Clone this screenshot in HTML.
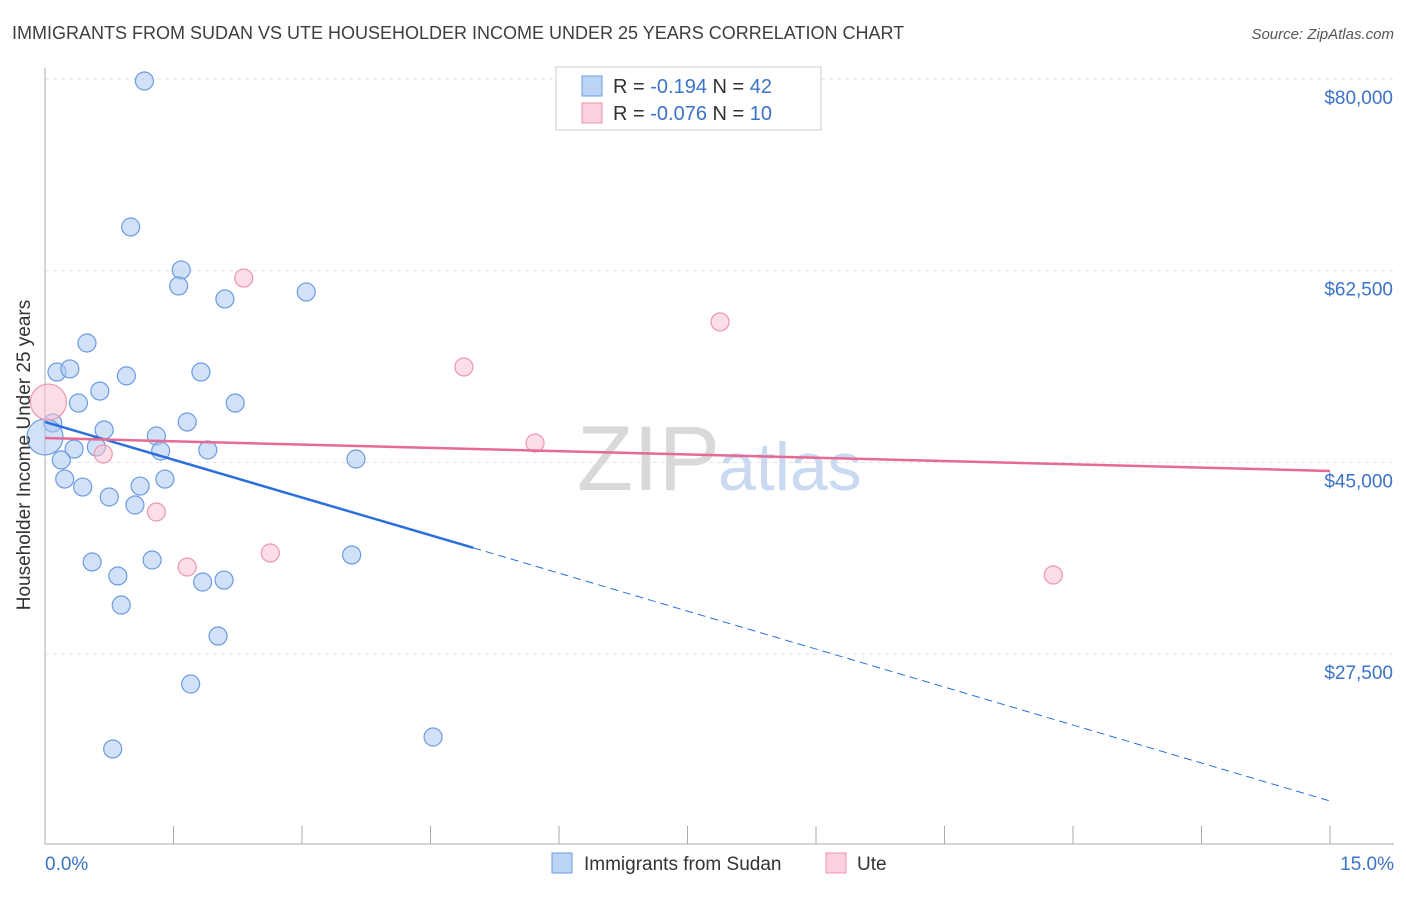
<!DOCTYPE html>
<html><head><meta charset="utf-8"><style>
body{margin:0;background:#fff;font-family:"Liberation Sans",sans-serif}
svg text{font-family:"Liberation Sans",sans-serif}
</style></head><body>
<svg id="c" width="1406" height="892" xmlns="http://www.w3.org/2000/svg">
<text x="12" y="39" font-size="18" fill="#3e3e3e">IMMIGRANTS FROM SUDAN VS UTE HOUSEHOLDER INCOME UNDER 25 YEARS CORRELATION CHART</text>
<text x="1394" y="39" font-size="15" fill="#555" text-anchor="end" font-style="italic">Source: ZipAtlas.com</text>
<g id="grid"></g>
<text x="720" y="490" font-size="92" fill="#d9d9d9" text-anchor="end" font-family="Liberation Serif">ZIP</text>
<text x="718" y="490" font-size="68" fill="#c9d9f0">atlas</text>
<g id="pts"></g>
<g id="lines"></g>
<text x="30" y="455" font-size="19" fill="#333" text-anchor="middle" transform="rotate(-90 30 455)">Householder Income Under 25 years</text>
<text x="45" y="870" font-size="19" fill="#3b73c8">0.0%</text>
<text x="1394" y="870" font-size="19" fill="#3b73c8" text-anchor="end">15.0%</text>
<g>
<rect x="556" y="67" width="265" height="63" fill="#fff" stroke="#ccc"/>
<rect x="582" y="76" width="20" height="20" fill="#bcd4f5" stroke="#6c9be0"/>
<rect x="582" y="103" width="20" height="20" fill="#fcd0dc" stroke="#ee95b0"/>
<text x="613" y="93" font-size="20" fill="#333">R = <tspan fill="#3b73c8"> -0.194</tspan>   N = <tspan fill="#3b73c8">42</tspan></text>
<text x="613" y="120" font-size="20" fill="#333">R = <tspan fill="#3b73c8">-0.076</tspan>   N = <tspan fill="#3b73c8"> 10</tspan></text>
</g>
<g>
<rect x="552" y="853" width="20" height="20" fill="#bcd4f5" stroke="#6c9be0"/>
<text x="584" y="870" font-size="19" fill="#333">Immigrants from Sudan</text>
<rect x="826" y="853" width="20" height="20" fill="#fcd0dc" stroke="#ee95b0"/>
<text x="857" y="870" font-size="19" fill="#333">Ute</text>
</g>
</svg>
<script>
const yTicks=[80000,62500,45000,27500];
const yTickLabels=["$80,000","$62,500","$45,000","$27,500"];
const sudanX=[1.16,1.00,1.59,1.56,2.10,3.05,0.49,0.14,0.29,0.95,1.82,0.64,0.39,2.22,1.66,0.09,0.69,1.30,0.0,0.60,1.35,1.90,0.34,0.19,3.63,0.23,0.44,1.11,1.40,0.75,1.05,0.55,1.25,0.85,1.84,2.09,3.58,0.89,2.02,1.70,0.79,4.53];
const sudanY=[79820,66490,62570,61110,59920,60560,55900,53250,53530,52900,53250,51510,50420,50420,48690,48600,47960,47410,47320,46410,46040,46130,46220,45220,45310,43480,42750,42840,43480,41840,41110,35910,36090,34630,34080,34260,36550,31980,29150,24770,18840,19930];
const uteX=[0.04,2.32,7.88,4.89,5.72,0.68,1.30,2.63,1.66,11.77];
const uteY=[50510,61830,57820,53710,46770,45770,40470,36730,35450,34720];
const sudanTrend=[[0,48690],[5.0,37200],[15,14090]];
const uteTrend=[[0,47230],[15,44220]];
const NS="http://www.w3.org/2000/svg";
const X=p=>45+p/15*1285;
const Y=v=>79+(80000-v)/17500*191.7;
function mk(t,a,parent){const e=document.createElementNS(NS,t);for(const k in a)e.setAttribute(k,a[k]);document.getElementById(parent).appendChild(e);return e;}
yTicks.forEach((v,i)=>{
 const l=mk('line',{x1:45,x2:1394,y1:Y(v),y2:Y(v),stroke:'#e2e2e2','stroke-dasharray':'4,4'},'grid');
 
 
 const t=mk('text',{x:1393,y:Y(v)+25,'font-size':19,fill:'#3b73c8','text-anchor':'end'},'grid');
 t.textContent=yTickLabels[i];
 
 
});
const ax=mk('line',{x1:45,x2:45,y1:68,y2:844,stroke:'#aaa'},'grid');


const bx=mk('line',{x1:45,x2:1394,y1:844,y2:844,stroke:'#aaa'},'grid');


for(let i=0;i<=10;i++){
 const t=mk('line',{x1:X(i*1.5),x2:X(i*1.5),y1:826,y2:844,stroke:'#aaa'},'grid');
 
 
}
sudanX.forEach((x,i)=>{
 const r=(i==18)?18:9;
 const c=mk('circle',{cx:X(x),cy:Y(sudanY[i]),r:r,fill:'rgba(170,200,243,0.55)',stroke:'#6c9be0','stroke-width':1.2},'pts');
 
 
});
uteX.forEach((x,i)=>{
 const r=(i==0)?18:9;
 const c=mk('circle',{cx:X(x),cy:Y(uteY[i]),r:r,fill:'rgba(250,195,212,0.55)',stroke:'#ee95b0','stroke-width':1.2},'pts');
 
 
});
const s1=mk('line',{x1:X(sudanTrend[0][0]),y1:Y(sudanTrend[0][1]),x2:X(sudanTrend[1][0]),y2:Y(sudanTrend[1][1]),stroke:'#2a6fdb','stroke-width':2.5},'lines');


const s2=mk('line',{x1:X(sudanTrend[1][0]),y1:Y(sudanTrend[1][1]),x2:X(sudanTrend[2][0]),y2:Y(sudanTrend[2][1]),stroke:'#2a6fdb','stroke-width':1,'stroke-dasharray':'8,5'},'lines');


const u1=mk('line',{x1:X(uteTrend[0][0]),y1:Y(uteTrend[0][1]),x2:X(uteTrend[1][0]),y2:Y(uteTrend[1][1]),stroke:'#e66a93','stroke-width':2.5},'lines');


</script>
</body></html>
